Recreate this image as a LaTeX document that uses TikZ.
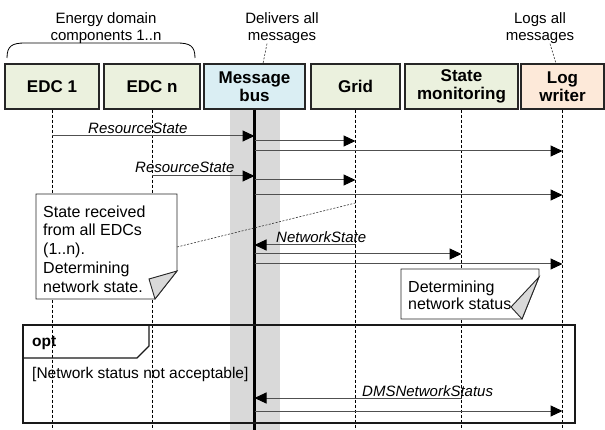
\documentclass[tikz,border=0pt]{standalone}
\usepackage{fontspec}
\setmainfont{Liberation Sans}
\usepackage{tikz}
\usetikzlibrary{arrows.meta}
\usetikzlibrary{calc}
\definecolor{edcgreen}{RGB}{235,241,222}
\definecolor{busblue}{RGB}{218,238,243}
\definecolor{logpeach}{RGB}{253,233,217}
\definecolor{bandgray}{RGB}{217,217,217}
\definecolor{msggray}{RGB}{80,80,80}
\newcommand\seqmsg[3]{\draw[msgline] (#1 |- 0,#3) -- (#2 |- 0,#3);}
\newcommand\lifeline[1]{\draw[lifedash] (#1.south) -- (#1 |- 0,430);}
\tikzset{
  lifehead/.style={draw=black!85, line width=1.1pt, minimum height=45pt, inner sep=0pt, align=center, font=\fontsize{17}{18.5}\selectfont\bfseries},
  lifedash/.style={black, line width=0.8pt, dash pattern=on 3pt off 2pt},
  msgline/.style={draw=msggray, line width=1pt, -{Triangle[length=12pt,width=11pt,color=black]}},
  msglabel/.style={anchor=base west, inner sep=0pt, font=\fontsize{15}{17}\selectfont\itshape},
  annot/.style={inner sep=0pt, align=center, font=\fontsize{15}{17}\selectfont},
  annotlink/.style={black!80, line width=0.6pt, dash pattern=on 2pt off 1.5pt},
  notebox/.style={draw=black!85, fill=white, line width=0.9pt},
  notefold/.style={draw=black!85, fill=bandgray, line width=0.9pt},
  notetext/.style={anchor=north west, inner sep=0pt, align=left, font=\fontsize{16}{18.7}\selectfont},
  frameline/.style={draw=black!90, line width=1.2pt}
}

\begin{document}
\begin{tikzpicture}[x=1pt,y=-1pt]
\useasboundingbox (0,0) rectangle (605,430);

% message bus band
\fill[bandgray] (230,109) rectangle (280,430);

% lifeline heads
\node[lifehead, fill=edcgreen, minimum width=94pt] (edc1) at (52,86.5) {EDC 1};
\node[lifehead, fill=edcgreen, minimum width=96pt] (edcn) at (152,86.5) {EDC n};
\node[lifehead, fill=busblue, minimum width=101pt] (bus) at (254.5,86.5) {Message\\bus};
\node[lifehead, fill=edcgreen, minimum width=89pt] (grid) at (355.5,86.5) {Grid};
\node[lifehead, fill=edcgreen, minimum width=113pt] (statemon) at (461.5,86.5) {State\\monitoring};
\node[lifehead, fill=logpeach, minimum width=83pt] (logw) at (562.5,86.5) {Log\\writer};

% lifelines
\lifeline{edc1}
\lifeline{edcn}
\lifeline{grid}
\lifeline{statemon}
\lifeline{logw}
\draw[line width=2.6pt] (bus.south) -- (bus |- 0,430);

% annotations above the heads
\node[annot] (edcnote) at (106,28) {Energy domain\\components 1..n};
\node[annot] (busnote) at (282,28) {Delivers all\\messages};
\node[annot] (lognote) at (540,28) {Logs all\\messages};
\draw[line width=0.8pt] (7,58) .. controls (7,46) and (12,43) .. (25,43) -- (177,43) .. controls (190,43) and (195,46) .. (195,58);
\draw[annotlink] ($(busnote.south)+(-15,0)$) -- ($(bus.north)+(8.5,0)$);
\draw[annotlink] ($(lognote.south)+(10,0)$) -- ($(logw.north)+(-6.5,0)$);

% messages
\seqmsg{edc1}{bus}{136}
\seqmsg{bus}{grid}{141}
\seqmsg{bus}{logw}{151}
\seqmsg{edcn}{bus}{176}
\seqmsg{bus}{grid}{180}
\seqmsg{bus}{logw}{195}
\seqmsg{grid}{bus}{245}
\seqmsg{bus}{statemon}{254}
\seqmsg{bus}{logw}{264}
\seqmsg{statemon}{bus}{398}
\seqmsg{bus}{logw}{411}
\node[msglabel] (rsone) at (88,134) {ResourceState};
\node[msglabel] (rsn) at (135,173) {ResourceState};
\node[msglabel] (netstate) at (276,243) {NetworkState};
\node[msglabel] (dmsstatus) at (362,396) {DMSNetworkStatus};

% notes
\draw[notebox] (36,194) -- (177,194) -- (177,271) -- (155,299) -- (36,299) -- cycle;
\draw[notefold] (177,271) -- (149,279) -- (155,299) -- cycle;
\node[notetext] (gridnote) at (43,205.5) {State received\\from all EDCs\\(1..n).\\Determining\\network state.};
\coordinate (gridnoteend) at (177,247);
\draw[annotlink] (gridnoteend) -- (grid |- 0,203);

\draw[notebox] (401,269) -- (539,269) -- (539,277) -- (522,319) -- (401,319) -- cycle;
\draw[notefold] (539,277) -- (511,307) -- (522,319) -- cycle;
\node[notetext, font=\fontsize{16}{17}\selectfont] (statenote) at (408,280.5) {Determining\\network status};

% opt fragment
\draw[frameline] (23,325) rectangle (575,423);
\draw[frameline] (23,358) -- (137,358) -- (149,346) -- (149,325);
\node[anchor=base west, inner sep=0pt, font=\fontsize{15.5}{17}\selectfont\bfseries] (optlbl) at (32,346) {opt};
\node[anchor=base west, inner sep=0pt, font=\fontsize{15.5}{17}\selectfont] (guard) at (32,378) {[Network status not acceptable]};
\end{tikzpicture}
\end{document}
